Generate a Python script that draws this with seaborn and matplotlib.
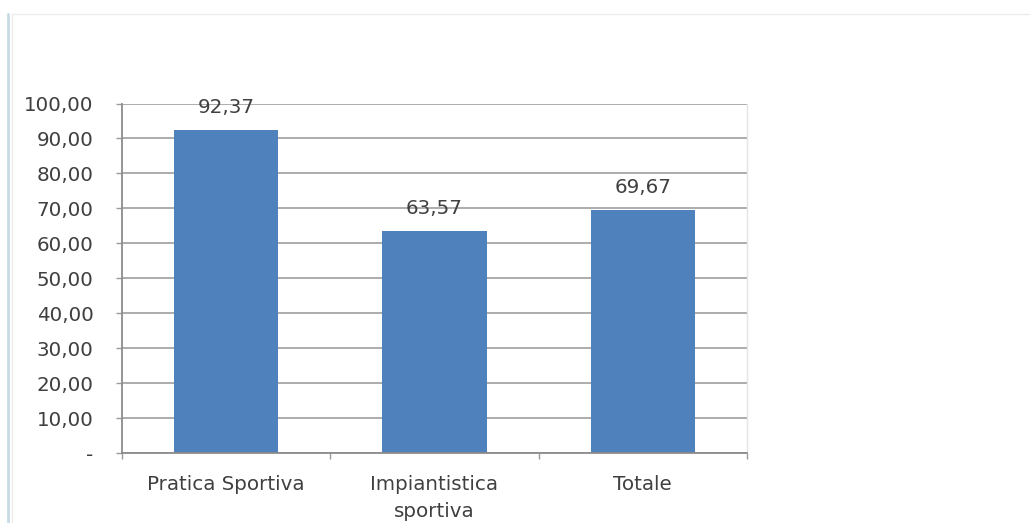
import matplotlib
matplotlib.use("Agg")
import matplotlib.pyplot as plt
from matplotlib.lines import Line2D
from matplotlib.ticker import FixedLocator
import seaborn as sns
import pandas as pd

# Data.
categories = ["Pratica Sportiva", "Impiantistica\nsportiva", "Totale"]
values = [92.37, 63.57, 69.67]
y_ticks = [0, 10, 20, 30, 40, 50, 60, 70, 80, 90, 100]

BAR_COLOR = "#4F81BD"
TEXT_COLOR = "#404040"
GRID_COLOR = "#a6a6a6"
FONT_SIZE = 14.3

sns.set_theme(style="white")
plt.rcParams["font.family"] = ["DejaVu Sans"]

df = pd.DataFrame({"categoria": categories, "valore": values})

fig = plt.figure(figsize=(10.30, 5.23), dpi=100)
ax = fig.add_axes([0.1184, 0.1338, 0.6068, 0.6683])

sns.barplot(data=df, x="categoria", y="valore", color=BAR_COLOR,
            width=0.5, saturation=1, linewidth=0, ax=ax)

ax.set_ylim(0, 100)
ax.set_xlim(-0.5, len(categories) - 0.5)
ax.set_xlabel("")
ax.set_ylabel("")

# Y axis: Excel style "100,00" labels, dash for zero.
def fmt(v):
    return "-" if v == 0 else f"{v:.2f}".replace(".", ",")

ax.set_yticks(y_ticks)
ax.set_yticklabels([fmt(v) for v in y_ticks])
ax.yaxis.grid(True, color=GRID_COLOR, linewidth=1.3)
ax.set_axisbelow(True)

# Category boundaries as tick marks below the axis.
ax.xaxis.set_minor_locator(FixedLocator([-0.5, 0.5, 1.5, 2.5]))
ax.tick_params(axis="x", which="major", length=0, pad=15.5,
               labelsize=FONT_SIZE, labelcolor=TEXT_COLOR)
ax.tick_params(axis="x", which="minor", length=4.5, width=1.0,
               color="#9a9a9a", direction="out", bottom=True)
ax.tick_params(axis="y", which="major", length=4.5, width=1.0, color="#9a9a9a",
               direction="out", left=True, pad=16,
               labelsize=FONT_SIZE, labelcolor=TEXT_COLOR)
for lbl in ax.get_xticklabels():
    lbl.set_linespacing(1.55)
    lbl.set_verticalalignment("top")

ax.spines["top"].set_visible(False)
ax.spines["right"].set_color("#e4e4e4")
ax.spines["right"].set_linewidth(1.0)
ax.spines["left"].set_color("#8c8c8c")
ax.spines["left"].set_linewidth(1.3)
ax.spines["bottom"].set_color("#8c8c8c")
ax.spines["bottom"].set_linewidth(1.3)

# Data labels above bars.
for i, v in enumerate(values):
    ax.annotate(fmt(v), (i, v), xytext=(0, 16), textcoords="offset points",
                ha="center", va="center", fontsize=FONT_SIZE, color=TEXT_COLOR)

# Frame lines of the original screenshot.
fig.add_artist(Line2D([8 / 1030, 8 / 1030], [0, 1 - 14 / 523],
                      transform=fig.transFigure, color="#c6dbe6", linewidth=2.0))
fig.add_artist(Line2D([12 / 1030, 12 / 1030], [0, 1 - 14 / 523],
                      transform=fig.transFigure, color="#ececec", linewidth=1.0))
fig.add_artist(Line2D([12 / 1030, 1], [1 - 14 / 523, 1 - 14 / 523],
                      transform=fig.transFigure, color="#ececec", linewidth=1.0))

fig.savefig("out.png", dpi=100, facecolor="white")
